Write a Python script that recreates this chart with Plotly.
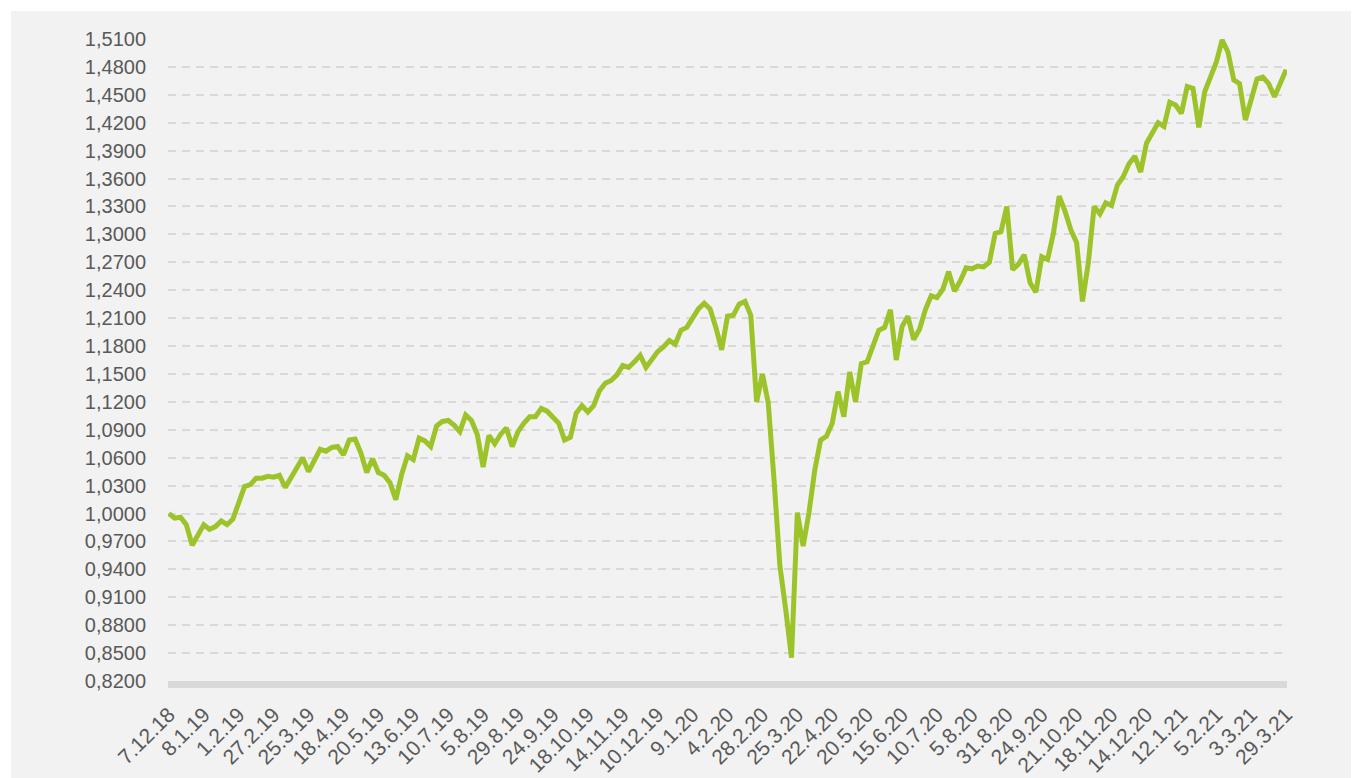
import plotly.graph_objects as go

# Tick labels (every 6th sample)
tick_labels = ["7.12.18", "8.1.19", "1.2.19", "27.2.19", "25.3.19", "18.4.19", "20.5.19",
               "13.6.19", "10.7.19", "5.8.19", "29.8.19", "24.9.19", "18.10.19", "14.11.19",
               "10.12.19", "9.1.20", "4.2.20", "28.2.20", "25.3.20", "22.4.20", "20.5.20",
               "15.6.20", "10.7.20", "5.8.20", "31.8.20", "24.9.20", "21.10.20", "18.11.20",
               "14.12.20", "12.1.21", "5.2.21", "3.3.21", "29.3.21"]

values = [
    1.000, 0.995, 0.996, 0.988, 0.966, 0.976, 0.988, 0.983, 0.986, 0.992,
    0.988, 0.994, 1.011, 1.029, 1.031, 1.038, 1.038, 1.040, 1.039, 1.041,
    1.028, 1.039, 1.051, 1.060, 1.045, 1.058, 1.069, 1.067, 1.071, 1.072,
    1.063, 1.079, 1.080, 1.065, 1.044, 1.059, 1.044, 1.041, 1.033, 1.015,
    1.042, 1.062, 1.058, 1.081, 1.078, 1.072, 1.094, 1.099, 1.100, 1.095,
    1.088, 1.106, 1.100, 1.085, 1.050, 1.084, 1.075, 1.085, 1.092, 1.072,
    1.088, 1.097, 1.104, 1.104, 1.113, 1.110, 1.104, 1.097, 1.079, 1.082,
    1.108, 1.116, 1.109, 1.116, 1.132, 1.140, 1.143, 1.149, 1.159, 1.157,
    1.163, 1.170, 1.157, 1.165, 1.174, 1.179, 1.186, 1.182, 1.197, 1.200,
    1.211, 1.220, 1.226, 1.220, 1.200, 1.176, 1.212, 1.213, 1.225, 1.228,
    1.213, 1.120, 1.150, 1.119, 1.036, 0.944, 0.897, 0.845, 1.001, 0.965,
    1.001, 1.047, 1.079, 1.083, 1.097, 1.131, 1.104, 1.152, 1.120, 1.161,
    1.163, 1.181, 1.197, 1.200, 1.219, 1.165, 1.201, 1.212, 1.187, 1.198,
    1.219, 1.234, 1.232, 1.241, 1.260, 1.239, 1.250, 1.264, 1.263, 1.266,
    1.265, 1.270, 1.301, 1.303, 1.330, 1.262, 1.268, 1.278, 1.248, 1.238,
    1.276, 1.273, 1.301, 1.341, 1.325, 1.305, 1.291, 1.228, 1.269, 1.330,
    1.322, 1.334, 1.331, 1.353, 1.362, 1.376, 1.384, 1.367, 1.398, 1.409,
    1.420, 1.416, 1.442, 1.439, 1.430, 1.459, 1.457, 1.415, 1.453, 1.469,
    1.485, 1.509, 1.496, 1.466, 1.462, 1.423, 1.444, 1.467, 1.469, 1.462,
    1.448, 1.464, 1.477,
]

idx = list(range(len(values)))
tick_pos = idx[::6]

# The page body has an 8px margin, so the figure is drawn 8px smaller.
W, H = 1351, 770
ML, MR, MT, MB = 160, 72, 31, 97
pw, ph = W - ML - MR, H - MT - MB


def px_x(px):
    return (px - ML) / pw


def px_y(py):
    return (H - MB - py) / ph


fig = go.Figure(go.Scatter(
    x=idx, y=values, mode="lines",
    line=dict(color="#9cc42a", width=5),
    hoverinfo="skip",
))

font_fam = "Liberation Sans, Arial, sans-serif"

fig.update_layout(
    width=W, height=H,
    margin=dict(l=ML, r=MR, t=MT, b=MB, autoexpand=False),
    paper_bgcolor="#f2f2f2",
    plot_bgcolor="#f2f2f2",
    separators=",.",
    showlegend=False,
    xaxis=dict(
        range=[-0.15, len(values) - 1 + 0.15],
        tickmode="array", tickvals=tick_pos, ticktext=tick_labels,
        tickangle=-45,
        tickfont=dict(family=font_fam, size=21, color="#595959"),
        showgrid=False, zeroline=False, automargin=False,
        showline=True, linewidth=7, linecolor="#d9d9d9",
        ticks="outside", ticklen=6, tickcolor="rgba(0,0,0,0)",
    ),
    yaxis=dict(
        range=[0.82, 1.51],
        tick0=0.82, dtick=0.03, tickformat=".4f",
        tickfont=dict(family=font_fam, size=20, color="#595959"),
        showgrid=True, gridcolor="#d9d9d9", gridwidth=1.6, griddash="8px,6px",
        zeroline=False, showline=False, automargin=False,
        ticks="outside", ticklen=17, tickcolor="rgba(0,0,0,0)",
    ),
    shapes=[
        dict(type="rect", xref="paper", yref="paper", layer="above",
             x0=px_x(-2), x1=px_x(3), y0=px_y(H + 2), y1=px_y(-2),
             fillcolor="white", line=dict(width=0)),
        dict(type="rect", xref="paper", yref="paper", layer="above",
             x0=px_x(-2), x1=px_x(W + 2), y0=px_y(3), y1=px_y(-2),
             fillcolor="white", line=dict(width=0)),
    ],
)

fig.write_html("out.html")
